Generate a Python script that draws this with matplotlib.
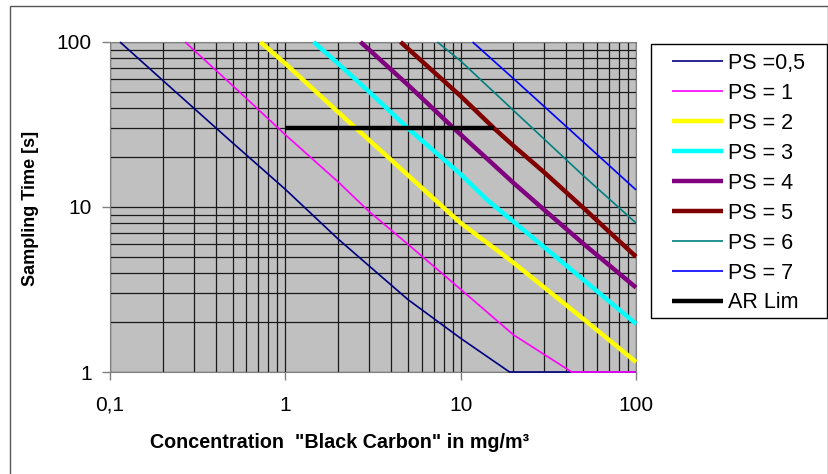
import matplotlib
matplotlib.use("Agg")
import matplotlib.pyplot as plt
from matplotlib.ticker import FixedLocator, LogLocator, NullFormatter, FuncFormatter
from matplotlib.patches import Rectangle

plt.rcParams['font.family'] = ['Liberation Sans', 'DejaVu Sans']

# values (concentration, sampling time)
ps05_x = [0.114, 0.2, 0.5, 1, 2, 3, 5, 10, 19, 100]
ps05_y = [100, 58.5, 24.5, 12.8, 6.4, 4.4, 2.75, 1.6, 1, 1]
ps1_x = [0.268, 0.5, 1, 2, 3, 5, 10, 20, 43, 100]
ps1_y = [100, 54.5, 27.4, 14.2, 9.4, 5.95, 3.17, 1.68, 1, 1]
ps2_x = [0.72, 1, 2, 5, 8, 10, 20, 50, 100]
ps2_y = [100, 74, 37.6, 15.6, 9.9, 8.0, 4.6, 2.1, 1.15]
ps3_x = [1.45, 2, 3, 5, 10, 14.2, 20, 50, 100]
ps3_y = [100, 74, 50, 30, 15.8, 11.0, 8.15, 3.63, 1.96]
ps4_x = [2.68, 3, 5, 9.14, 20, 30, 50, 100]
ps4_y = [100, 90, 55, 30, 14.0, 9.6, 6.0, 3.25]
ps5_x = [4.54, 10, 15.5, 20, 30, 50, 100]
ps5_y = [100, 47, 30, 23.5, 16.2, 9.9, 5.0]
ps6_x = [7.36, 10, 20, 50, 100]
ps6_y = [100, 76.7, 38.5, 15.5, 8.0]
ps7_x = [11.7, 20, 50, 100]
ps7_y = [100, 60, 24.8, 12.7]
ar_x = [1, 15.5]
ar_y = [30, 30]

labels = ["PS =0,5", "PS = 1", "PS = 2", "PS = 3", "PS = 4",
          "PS = 5", "PS = 6", "PS = 7", "AR Lim"]
xs = [ps05_x, ps1_x, ps2_x, ps3_x, ps4_x, ps5_x, ps6_x, ps7_x, ar_x]
ys = [ps05_y, ps1_y, ps2_y, ps3_y, ps4_y, ps5_y, ps6_y, ps7_y, ar_y]
colors = ["#000080", "#FF00FF", "#FFFF00", "#00FFFF", "#800080",
          "#800000", "#008080", "#0000FF", "#000000"]
widths = [1.2, 1.2, 3.2, 3.2, 3.2, 3.2, 1.2, 1.2, 3.2]

W, H = 829, 474
fig = plt.figure(figsize=(W / 100, H / 100), dpi=100)
ax = fig.add_axes([110 / W, 1 - 372 / H, 526 / W, 330 / H])
ax.set_facecolor("#C0C0C0")

handles = []
for x, y, c, lw, lab in zip(xs, ys, colors, widths, labels):
    h, = ax.plot(x, y, color=c, lw=lw, label=lab, clip_on=False,
                 solid_capstyle="butt", zorder=3)
    handles.append(h)

ax.set_xscale("log")
ax.set_yscale("log")
ax.set_xlim(0.1, 100)
ax.set_ylim(1, 100)

ax.xaxis.set_major_locator(FixedLocator([0.1, 1, 10, 100]))
ax.yaxis.set_major_locator(FixedLocator([1, 10, 100]))
ax.xaxis.set_minor_locator(LogLocator(base=10, subs=range(2, 10)))
ax.yaxis.set_minor_locator(LogLocator(base=10, subs=range(2, 10)))
fmt = FuncFormatter(lambda v, p: f"{v:g}".replace(".", ","))
ax.xaxis.set_major_formatter(fmt)
ax.yaxis.set_major_formatter(fmt)
ax.xaxis.set_minor_formatter(NullFormatter())
ax.yaxis.set_minor_formatter(NullFormatter())

ax.grid(which="both", color="#1a1a1a", lw=0.9, zorder=1)
ax.set_axisbelow(True)
ax.tick_params(which="major", length=6, width=1, color="#808080")
ax.tick_params(which="minor", length=0)
ax.tick_params(axis="x", labelsize=15, pad=11)
ax.tick_params(axis="y", labelsize=15, pad=7)
for s in ax.spines.values():
    s.set_color("#808080")

fig.text(340 / W, 1 - 442 / H, 'Concentration  "Black Carbon" in mg/m³',
         ha="center", va="center", fontsize=14.2, weight="bold")
fig.text(31 / W, 1 - 208 / H, "Sampling Time [s]", rotation=90,
         ha="center", va="center", fontsize=13, weight="bold")

leg = fig.legend(handles=handles, loc="upper left",
                 bbox_to_anchor=(672 / W, 1 - 53 / H), frameon=False,
                 fontsize=15.5, handlelength=2.37, handletextpad=0.23,
                 labelspacing=0.415, borderpad=0, borderaxespad=0)

fig.patches.append(Rectangle((651 / W, 1 - 318 / H), 176 / W, 274 / H,
                             transform=fig.transFigure, fill=False,
                             edgecolor="black", lw=1))
fig.patches.append(Rectangle((10 / W, -0.01), 818 / W, 1 - 6 / H + 0.01,
                             transform=fig.transFigure, fill=False,
                             edgecolor="#555555", lw=1))

fig.savefig("out.png", dpi=100)
